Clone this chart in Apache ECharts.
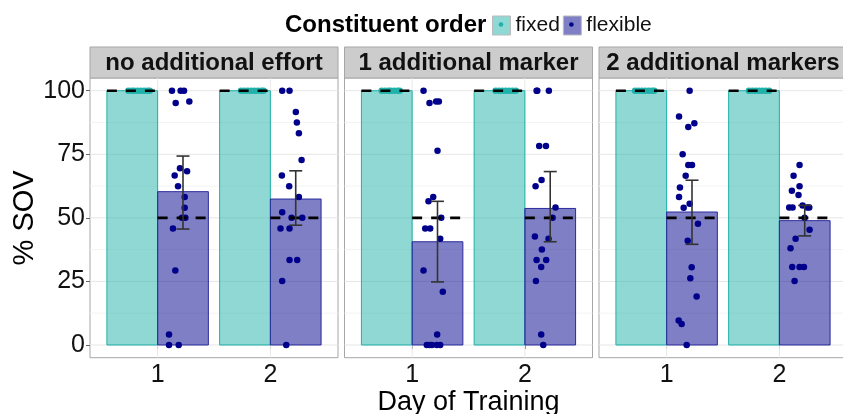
<!DOCTYPE html>
<html>
<head>
<meta charset="utf-8">
<script src="https://cdn.jsdelivr.net/npm/echarts@6/dist/echarts.min.js"></script>
<style>
  html, body { margin: 0; padding: 0; background: #fff; }
  #chart { width: 843px; height: 414px; }
</style>
</head>
<body>
<div id="chart"></div>
<script>
const PANELS = ['no additional effort', '1 additional marker', '2 additional markers']
const DAYS = [1, 2]
const Y_TICKS = [0, 25, 50, 75, 100]
const Y_MINOR = [12.5, 37.5, 62.5, 87.5]

// mean % SOV per panel, [day1, day2]
const FIXED_MEAN = [[100, 100], [100, 100], [100, 100]]
const FLEX_MEAN = [[60.3, 57.4], [40.6, 53.7], [52.3, 48.9]]
const FLEX_LOW = [[45.6, 47.1], [24.8, 40.6], [39.6, 42.9]]
const FLEX_HIGH = [[74.3, 68.5], [56.5, 68.2], [64.8, 54.9]]
// dashed reference level per order
const REF_FIXED = 100
const REF_FLEX = 50

// fixed participants, all at 100 (x positions)
const FIXED_X_P1 = [0.74, 0.77, 0.79, 0.82, 0.85, 0.88, 0.91, 0.93, 1.74, 1.77, 1.80, 1.83, 1.86, 1.89, 1.92, 1.94]
const FIXED_X_P2 = [0.73, 0.76, 0.79, 0.81, 0.84, 0.87, 0.89, 1.74, 1.77, 1.80, 1.83, 1.86, 1.89, 1.92]
const FIXED_X_P3 = [0.72, 0.75, 0.78, 0.81, 0.84, 0.87, 0.89, 1.73, 1.76, 1.79, 1.82, 1.85, 1.88, 1.91]

// flexible participants [x, % SOV]
const FLEX_PTS_P1 = [
  [1.127, 100], [1.204, 100], [1.234, 100], [1.160, 95.2], [1.281, 95.8], [1.198, 69.5],
  [1.261, 68.3], [1.151, 66.7], [1.181, 62.4], [1.240, 58.2], [1.240, 54.0], [1.216, 50],
  [1.246, 50], [1.136, 45.8], [1.157, 29.3], [1.101, 4.1], [1.101, 0], [1.187, 0],
  [2.105, 100], [2.170, 100], [2.226, 91.6], [2.235, 87.5], [2.253, 83.3], [2.277, 72.8],
  [2.102, 66.7], [2.167, 62.4], [2.253, 58.2], [2.105, 52.2], [2.188, 50], [2.283, 50],
  [2.090, 45.8], [2.170, 45.8], [2.170, 33.4], [2.238, 33.4], [2.105, 25.2], [2.141, 0]
]
const FLEX_PTS_P2 = [
  [1.101, 100], [1.154, 95.2], [1.213, 95.8], [1.237, 95.8], [1.225, 76.4], [1.187, 58.2],
  [1.145, 56.5], [1.258, 50], [1.116, 45.8], [1.160, 45.8], [1.249, 41.8], [1.101, 29.3],
  [1.272, 20.9], [1.222, 4.1], [1.130, 0], [1.154, 0], [1.175, 0], [1.219, 0], [1.249, 0],
  [2.104, 100], [2.110, 100], [2.213, 100], [2.127, 78.3], [2.187, 78.3], [2.148, 64.9],
  [2.095, 62.4], [2.272, 54.1], [2.246, 50], [2.089, 42.7], [2.210, 41.8], [2.151, 37.6],
  [2.104, 33.4], [2.189, 33.4], [2.145, 30.7], [2.098, 25.2], [2.145, 4.1], [2.163, 0]
]
const FLEX_PTS_P3 = [
  [1.204, 100], [1.110, 89.9], [1.192, 85.7], [1.246, 87.2], [1.142, 75], [1.192, 70.8],
  [1.225, 70.8], [1.169, 66.6], [1.118, 61.9], [1.110, 58.2], [1.204, 55.5], [1.151, 54],
  [1.278, 47.7], [1.187, 41], [1.222, 30.6], [1.210, 26.2], [1.266, 19.1], [1.107, 9.6],
  [1.133, 8.3], [1.178, 0],
  [2.179, 70.8], [2.126, 66.6], [2.179, 62.4], [2.111, 60.7], [2.170, 59], [2.087, 54.1],
  [2.117, 54.1], [2.206, 54.9], [2.247, 54.1], [2.265, 54.1], [2.224, 50], [2.268, 45.3],
  [2.144, 41.8], [2.099, 38], [2.114, 30.7], [2.179, 30.7], [2.218, 30.7], [2.135, 25.2]
]

const FIXED_X = [FIXED_X_P1, FIXED_X_P2, FIXED_X_P3]
const FLEX_PTS = [FLEX_PTS_P1, FLEX_PTS_P2, FLEX_PTS_P3]

const FONT = 'Liberation Sans'
const TEAL = '#20b2aa'
const NAVY = '#00008b'
const GRID_LEFT = [90, 344.5, 599]
const GRID_TOP = 78
const GRID_W = 248
const GRID_H = 279.7
const HALF = 0.45

const chart = echarts.init(document.getElementById('chart'), null, { renderer: 'canvas' })

function barRender(offset, fill, stroke) {
  return (params, api) => {
    const x0 = api.value(0) + offset
    const a = api.coord([x0, api.value(1)])
    const b = api.coord([x0 + HALF, 0])
    return {
      type: 'rect',
      shape: { x: a[0], y: a[1], width: b[0] - a[0], height: b[1] - a[1] },
      style: { fill: fill, stroke: stroke, lineWidth: 1 }
    }
  }
}

function dashRender(offset) {
  return (params, api) => {
    const x0 = api.value(0) + offset
    const a = api.coord([x0, api.value(1)])
    const b = api.coord([x0 + HALF, api.value(1)])
    return {
      type: 'line',
      shape: { x1: a[0], y1: a[1], x2: b[0], y2: b[1] },
      style: { stroke: '#000', lineWidth: 2.6, lineDash: [10, 9] }
    }
  }
}

function errRender(params, api) {
  const lo = api.coord([api.value(0), api.value(1)])
  const hi = api.coord([api.value(0), api.value(2)])
  const w = 6.5
  const st = { stroke: '#333', lineWidth: 1.6 }
  return {
    type: 'group',
    children: [
      { type: 'line', shape: { x1: lo[0], y1: lo[1], x2: hi[0], y2: hi[1] }, style: st },
      { type: 'line', shape: { x1: lo[0] - w, y1: lo[1], x2: lo[0] + w, y2: lo[1] }, style: st },
      { type: 'line', shape: { x1: hi[0] - w, y1: hi[1], x2: hi[0] + w, y2: hi[1] }, style: st }
    ]
  }
}

function hGridRender(color) {
  return (params, api) => {
    const y = api.coord([1, api.value(1)])[1]
    const cs = params.coordSys
    return {
      type: 'line',
      shape: { x1: cs.x, y1: y, x2: cs.x + cs.width, y2: y },
      style: { stroke: color, lineWidth: 1 }
    }
  }
}

function vGridRender(params, api) {
  const x = api.coord([api.value(0), 0])[0]
  const cs = params.coordSys
  return {
    type: 'line',
    shape: { x1: x, y1: cs.y, x2: x, y2: cs.y + cs.height },
    style: { stroke: '#e8e8e8', lineWidth: 1 }
  }
}

const grids = [], xAxes = [], yAxes = [], series = [], graphics = []

PANELS.forEach((name, p) => {
  grids.push({
    left: GRID_LEFT[p], top: GRID_TOP, width: GRID_W, height: GRID_H,
    outerBoundsMode: 'none', containLabel: false,
    show: true, borderColor: '#a6a6a6', borderWidth: 1, backgroundColor: '#fff'
  })
  xAxes.push({
    gridIndex: p, type: 'value', min: 0.4, max: 2.6,
    axisLine: { show: false },
    splitLine: { show: false },
    axisTick: { customValues: DAYS, length: 4, lineStyle: { color: '#666' } },
    axisLabel: { customValues: DAYS, margin: 5, fontSize: 25, color: '#111', fontFamily: FONT },
    name: p === 1 ? 'Day of Training' : '',
    nameLocation: 'middle', nameGap: 31, nameMoveOverlap: false,
    nameTextStyle: { fontSize: 27, color: '#000', fontFamily: FONT }
  })
  yAxes.push({
    gridIndex: p, type: 'value', min: -5, max: 105,
    axisLine: { show: false },
    splitLine: { show: false },
    axisTick: { show: p === 0, customValues: Y_TICKS, length: 4, lineStyle: { color: '#666' } },
    axisLabel: { show: p === 0, customValues: Y_TICKS, margin: 5, fontSize: 25, color: '#111', fontFamily: FONT },
    name: p === 0 ? '% SOV' : '',
    nameLocation: 'middle', nameGap: 51, nameMoveOverlap: false,
    nameTextStyle: { fontSize: 29, color: '#000', fontFamily: FONT }
  })

  const ax = { xAxisIndex: p, yAxisIndex: p }
  series.push(
    { ...ax, type: 'custom', silent: true, z: 1, renderItem: hGridRender('#f3f3f3'), data: Y_MINOR.map(v => [1, v]) },
    { ...ax, type: 'custom', silent: true, z: 1, renderItem: hGridRender('#e6e6e6'), data: Y_TICKS.map(v => [1, v]) },
    { ...ax, type: 'custom', silent: true, z: 1, renderItem: vGridRender, data: DAYS.map(d => [d, 0]) },
    {
      ...ax, name: 'fixed', type: 'custom', z: 2,
      itemStyle: { color: TEAL },
      renderItem: barRender(-HALF, 'rgba(32,178,170,0.5)', TEAL),
      data: DAYS.map((d, j) => [d, FIXED_MEAN[p][j]])
    },
    {
      ...ax, name: 'flexible', type: 'custom', z: 2,
      itemStyle: { color: NAVY },
      renderItem: barRender(0, 'rgba(0,0,139,0.5)', '#2a2a9e'),
      data: DAYS.map((d, j) => [d, FLEX_MEAN[p][j]])
    },
    {
      ...ax, type: 'scatter', z: 3, symbolSize: 6.5, itemStyle: { color: TEAL, opacity: 1 },
      data: FIXED_X[p].map(x => [x, 100])
    },
    {
      ...ax, type: 'scatter', z: 3, symbolSize: 6.5, itemStyle: { color: NAVY, opacity: 1 },
      data: FLEX_PTS[p]
    },
    { ...ax, type: 'custom', silent: true, z: 4, renderItem: dashRender(-HALF), data: DAYS.map(d => [d, REF_FIXED]) },
    { ...ax, type: 'custom', silent: true, z: 4, renderItem: dashRender(0), data: DAYS.map(d => [d, REF_FLEX]) },
    {
      ...ax, type: 'custom', silent: true, z: 5, renderItem: errRender,
      data: DAYS.map((d, j) => [d + HALF / 2, FLEX_LOW[p][j], FLEX_HIGH[p][j]])
    }
  )

  // facet strip
  graphics.push({
    type: 'group',
    children: [
      {
        type: 'rect',
        shape: { x: GRID_LEFT[p], y: 47, width: GRID_W, height: GRID_TOP - 47 },
        style: { fill: '#cccccc', stroke: '#a6a6a6', lineWidth: 1 }
      },
      {
        type: 'text',
        style: {
          text: name, x: GRID_LEFT[p] + GRID_W / 2, y: 63,
          textAlign: 'center', textVerticalAlign: 'middle', align: 'center', verticalAlign: 'middle',
          font: 'bold 24px "Liberation Sans"', fill: '#111'
        }
      }
    ]
  })
})

// dots inside legend keys
graphics.push(
  { type: 'circle', shape: { cx: 501, cy: 24.5, r: 2.3 }, style: { fill: TEAL }, z: 100 },
  { type: 'circle', shape: { cx: 571.4, cy: 24.5, r: 2.3 }, style: { fill: NAVY }, z: 100 }
)

const option = {
  animation: false,
  textStyle: { fontFamily: FONT },
  title: {
    text: 'Constituent order', left: 285, top: 13, padding: 0,
    textStyle: { fontSize: 24, fontWeight: 'bold', color: '#000', fontFamily: FONT }
  },
  legend: {
    left: 492, top: 15, padding: 0, itemWidth: 18, itemHeight: 19, itemGap: 3,
    selectedMode: false, icon: 'rect',
    textStyle: { fontSize: 21, color: '#111', fontFamily: FONT },
    data: [
      { name: 'fixed', itemStyle: { color: 'rgba(32,178,170,0.5)', borderColor: '#bbbbbb', borderWidth: 1 } },
      { name: 'flexible', itemStyle: { color: 'rgba(0,0,139,0.5)', borderColor: '#bbbbbb', borderWidth: 1 } }
    ]
  },
  grid: grids,
  xAxis: xAxes,
  yAxis: yAxes,
  series: series,
  graphic: graphics
}

chart.setOption(option)
</script>
</body>
</html>
